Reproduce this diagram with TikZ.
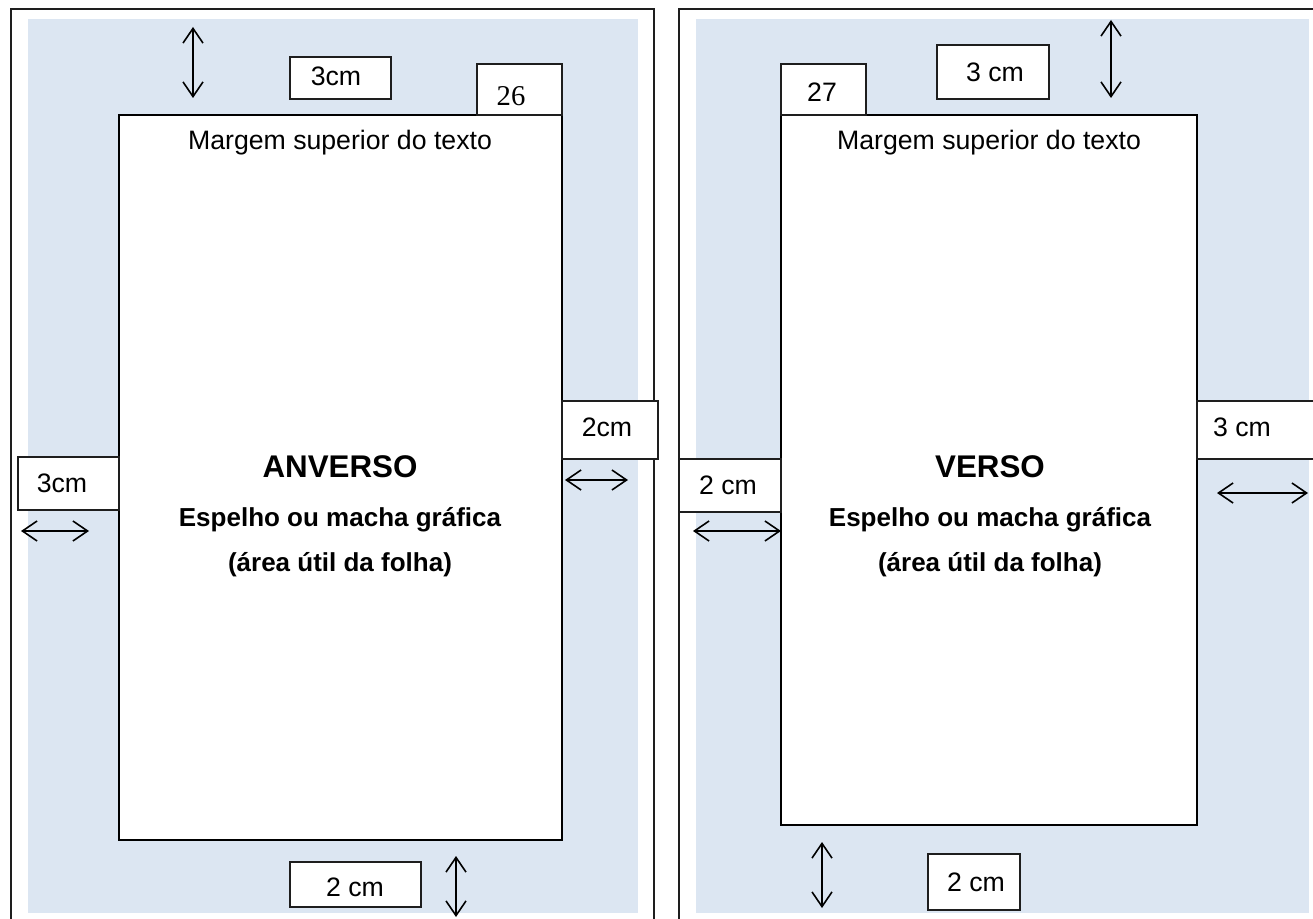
\documentclass[tikz,border=0pt]{standalone}
\usepackage{fontspec}
\setmainfont{Liberation Sans}
\newfontfamily\serifnum{Liberation Serif}
\usetikzlibrary{arrows.meta}
\definecolor{sheetblue}{RGB}{220,230,242}
\definecolor{framegray}{RGB}{30,30,30}
\begin{document}
\begin{tikzpicture}[x=0.75pt,y=-0.75pt,
  frame/.style={draw=framegray,line width=1.7pt},
  page/.style={draw=black,line width=1.8pt,fill=white,inner sep=0pt},
  lbox/.style={draw=framegray,line width=1pt,fill=white,inner sep=0pt},
  txt/.style={inner sep=0pt,font=\fontsize{20}{24}\selectfont},
  btxt/.style={inner sep=0pt,font=\fontsize{19.5}{23}\selectfont\bfseries},
  ttl/.style={inner sep=0pt,font=\fontsize{23.5}{28}\selectfont\bfseries},
  dim/.style={line width=1.2pt,{Straight Barb[length=11pt,width=15pt]}-{Straight Barb[length=11pt,width=15pt]}}]
\clip (0,0) rectangle (1313,919);
\fill[white] (0,0) rectangle (1313,919);
% sheets
\fill[sheetblue] (28,19) rectangle (638,913);
\draw[frame] (11,930) -- (11,9) -- (654,9) -- (654,930);
\fill[sheetblue] (696,19) rectangle (1309,913);
\draw[frame] (679,930) -- (679,9) -- (1330,9);

% ---------------- left sheet (ANVERSO)
\node[page, minimum width=443*0.75pt, minimum height=725*0.75pt] (pageL) at (340.5,477.5) {};
\node[lbox, minimum width=101*0.75pt, minimum height=42*0.75pt] (topL) at (340.5,78) {};
\node[txt] (topLt) at (336,76) {3cm};
\node[lbox, minimum width=85*0.75pt, minimum height=51*0.75pt] (numL) at (519.5,89.5) {};
\node[inner sep=0pt,font=\serifnum\fontsize{21.5}{24}\selectfont] (numLt) at (511,96) {26};
\coordinate (tLa) at (193,27); \coordinate (tLb) at (193,98);
\draw[dim] (tLa) -- (tLb);
\node[txt] (margL) at (340,143) {Margem superior do texto};
\node[ttl] (titL) at (340,467) {ANVERSO};
\node[btxt] (espL) at (340,520) {Espelho ou macha gráfica};
\node[btxt] (areaL) at (340,565) {(área útil da folha)};
\node[lbox, minimum width=96*0.75pt, minimum height=58*0.75pt] (rgtL) at (610,430) {};
\node[txt] (rgtLt) at (607,427) {2cm};
\coordinate (rLa) at (565,480); \coordinate (rLb) at (628,480);
\draw[dim] (rLa) -- (rLb);
\node[lbox, minimum width=101*0.75pt, minimum height=53*0.75pt] (lftL) at (68.5,483.5) {};
\node[txt] (lftLt) at (62,483) {3cm};
\coordinate (lLa) at (21,531); \coordinate (lLb) at (89,531);
\draw[dim] (lLa) -- (lLb);
\node[lbox, minimum width=131*0.75pt, minimum height=45*0.75pt] (botL) at (355.5,884.5) {};
\node[txt] (botLt) at (355,887) {2 cm};
\coordinate (bLa) at (456,856); \coordinate (bLb) at (456,917);
\draw[dim] (bLa) -- (bLb);

% ---------------- right sheet (VERSO)
\node[page, minimum width=416*0.75pt, minimum height=710*0.75pt] (pageR) at (989,470) {};
\node[lbox, minimum width=85*0.75pt, minimum height=51*0.75pt] (numR) at (823.5,89.5) {};
\node[txt] (numRt) at (822,92) {27};
\node[lbox, minimum width=112*0.75pt, minimum height=54*0.75pt] (topR) at (993,72) {};
\node[txt] (topRt) at (995,72) {3 cm};
\coordinate (tRa) at (1111,20); \coordinate (tRb) at (1111,98);
\draw[dim] (tRa) -- (tRb);
\node[txt] (margR) at (989,143) {Margem superior do texto};
\node[ttl] (titR) at (990,467) {VERSO};
\node[btxt] (espR) at (990,520) {Espelho ou macha gráfica};
\node[btxt] (areaR) at (990,565) {(área útil da folha)};
\node[lbox, minimum width=143*0.75pt, minimum height=58*0.75pt] (rgtR) at (1268.5,430) {};
\node[txt] (rgtRt) at (1242,427) {3 cm};
\coordinate (rRa) at (1217,493); \coordinate (rRb) at (1308,493);
\draw[dim] (rRa) -- (rRb);
\node[lbox, minimum width=102*0.75pt, minimum height=53*0.75pt] (lftR) at (730,485.5) {};
\node[txt] (lftRt) at (728,485) {2 cm};
\coordinate (lRa) at (693,531); \coordinate (lRb) at (781,531);
\draw[dim] (lRa) -- (lRb);
\node[lbox, minimum width=92*0.75pt, minimum height=56*0.75pt] (botR) at (974,882) {};
\node[txt] (botRt) at (976,882) {2 cm};
\coordinate (bRa) at (822,842); \coordinate (bRb) at (822,908);
\draw[dim] (bRa) -- (bRb);
\end{tikzpicture}
\end{document}
